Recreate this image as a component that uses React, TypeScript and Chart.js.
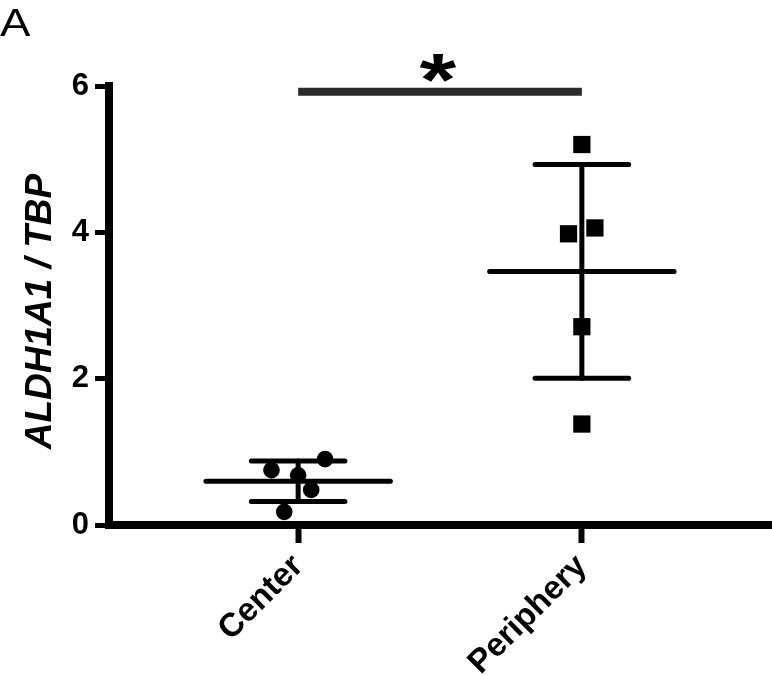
import React, { useEffect, useRef } from 'react';
import { Chart, registerables } from 'chart.js';

Chart.register(...registerables);

// ---- data ----
const categories = ['Center', 'Periphery'];
const centerValues = [0.75, 0.9, 0.68, 0.48, 0.18];
const centerJitter = [-0.094, 0.095, 0, 0.046, -0.049];
const peripheryValues = [5.2, 3.98, 4.06, 2.71, 1.38];
const peripheryJitter = [0, -0.047, 0.046, 0, 0];
const yTickValues = [0, 2, 4, 6];
const yTitle = 'ALDH1A1 / TBP';
const panelLabel = 'A';
const significanceLabel = '*';
const significanceLevel = 5.92;

const FONT = '"Liberation Sans", Arial, Helvetica, sans-serif';

function meanSd(vals: number[]) {
  const m = vals.reduce((a, b) => a + b, 0) / vals.length;
  const v = vals.reduce((a, b) => a + (b - m) * (b - m), 0) / (vals.length - 1);
  return { m, sd: Math.sqrt(v) };
}

const groups = [centerValues, peripheryValues];

const overlayPlugin = {
  id: 'overlay',
  afterDatasetsDraw(chart: any) {
    const { ctx, scales } = chart;
    const xs = scales.x;
    const ys = scales.y;
    ctx.save();
    ctx.strokeStyle = '#000';
    ctx.lineWidth = 5;
    ctx.lineCap = 'round';
    groups.forEach((vals, i) => {
      const g = i + 1;
      const { m, sd } = meanSd(vals);
      const line = (x1: number, y1: number, x2: number, y2: number) => {
        ctx.beginPath();
        ctx.moveTo(xs.getPixelForValue(x1), ys.getPixelForValue(y1));
        ctx.lineTo(xs.getPixelForValue(x2), ys.getPixelForValue(y2));
        ctx.stroke();
      };
      line(g - 0.325, m, g + 0.325, m);
      line(g - 0.165, m + sd, g + 0.165, m + sd);
      line(g - 0.165, m - sd, g + 0.165, m - sd);
      line(g, m - sd, g, m + sd);
    });
    ctx.restore();
  },
  afterDraw(chart: any) {
    const { ctx, scales, chartArea } = chart;
    const xs = scales.x;
    const ys = scales.y;
    ctx.save();
    // axis corner
    ctx.fillStyle = '#000';
    ctx.fillRect(chartArea.left - 4, chartArea.bottom - 4, 8, 8);
    // y axis title
    ctx.save();
    ctx.translate(38, (chartArea.top + chartArea.bottom) / 2 + 6);
    ctx.rotate(-Math.PI / 2);
    ctx.font = `italic bold 37px ${FONT}`;
    ctx.textAlign = 'center';
    ctx.textBaseline = 'alphabetic';
    ctx.fillText(yTitle, 0, 13);
    ctx.restore();
    // significance bar
    const y = ys.getPixelForValue(significanceLevel);
    const x1 = xs.getPixelForValue(1);
    const x2 = xs.getPixelForValue(2);
    ctx.strokeStyle = '#2b2b2b';
    ctx.lineWidth = 8;
    ctx.lineCap = 'butt';
    ctx.beginPath();
    ctx.moveTo(x1, y);
    ctx.lineTo(x2, y);
    ctx.stroke();
    // asterisk
    ctx.save();
    ctx.font = `bold 90px ${FONT}`;
    ctx.textAlign = 'center';
    ctx.textBaseline = 'alphabetic';
    const mt = ctx.measureText(significanceLabel);
    const asc = mt.actualBoundingBoxAscent;
    const desc = mt.actualBoundingBoxDescent;
    const cy = y - 25;
    ctx.fillStyle = '#000';
    ctx.translate((x1 + x2) / 2 - 2, cy);
    ctx.scale(1.05, 0.82);
    ctx.fillText(significanceLabel, 0, (asc - desc) / 2);
    ctx.restore();
    // panel label
    ctx.font = `38px ${FONT}`;
    ctx.textAlign = 'left';
    ctx.fillStyle = '#000';
    ctx.translate(0, 36);
    ctx.scale(1.2, 1);
    ctx.fillText(panelLabel, 0, 0);
    ctx.restore();
  },
};

export default function App() {
  const ref = useRef<HTMLCanvasElement>(null);
  useEffect(() => {
    const canvas = ref.current;
    if (!canvas) return;
    const chart = new Chart(canvas, {
      type: 'scatter',
      data: {
        datasets: [
          {
            label: categories[0],
            data: centerValues.map((v, i) => ({ x: 1 + centerJitter[i], y: v })),
            pointStyle: 'circle',
            pointRadius: 8.3,
            backgroundColor: '#000',
            borderWidth: 0,
          },
          {
            label: categories[1],
            data: peripheryValues.map((v, i) => ({ x: 2 + peripheryJitter[i], y: v })),
            pointStyle: 'rect',
            pointRadius: 12.2,
            backgroundColor: '#000',
            borderWidth: 0,
          },
        ],
      },
      options: {
        responsive: false,
        animation: false,
        devicePixelRatio: 1,
        layout: { autoPadding: false, padding: { top: 86, right: 1, left: 0, bottom: 0 } },
        plugins: { legend: { display: false }, tooltip: { enabled: false } },
        scales: {
          x: {
            type: 'linear',
            min: 1 / 3,
            max: 8 / 3,
            afterBuildTicks: (s: any) => {
              s.ticks = categories.map((_, i) => ({ value: i + 1 }));
            },
            afterFit: (s: any) => {
              s.height = 150;
              s.paddingLeft = 0;
              s.paddingRight = 0;
            },
            ticks: {
              autoSkip: false,
              minRotation: 45,
              maxRotation: 45,
              padding: 4,
              color: '#000',
              font: { family: FONT, size: 33, weight: 'bold' },
              callback: (v: any) => categories[Math.round(Number(v)) - 1] ?? '',
            },
            grid: {
              drawOnChartArea: false,
              drawTicks: true,
              tickLength: 18,
              tickWidth: 6,
              tickColor: '#000',
            },
            border: { display: true, color: '#000', width: 8 },
          },
          y: {
            min: 0,
            max: 6,
            afterBuildTicks: (s: any) => {
              s.ticks = yTickValues.map((v) => ({ value: v }));
            },
            afterFit: (s: any) => {
              s.width = 109;
              s.paddingTop = 0;
              s.paddingBottom = 0;
            },
            ticks: {
              padding: 6,
              color: '#000',
              font: { family: FONT, size: 31, weight: 'bold' },
            },
            grid: {
              drawOnChartArea: false,
              drawTicks: true,
              tickLength: 14,
              tickWidth: 5,
              tickColor: '#000',
            },
            border: { display: true, color: '#000', width: 8 },
          },
        },
      },
      plugins: [overlayPlugin],
    } as any);
    return () => chart.destroy();
  }, []);
  return (
    <div style={{ position: 'fixed', left: 0, top: 0, width: 772, height: 675, background: '#fff' }}>
      <canvas ref={ref} width={772} height={675} style={{ display: 'block', width: 772, height: 675 }} />
    </div>
  );
}
